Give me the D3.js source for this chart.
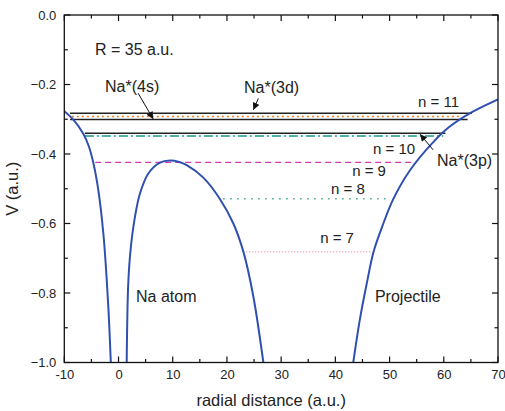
<!DOCTYPE html>
<html>
<head>
<meta charset="utf-8">
<script src="https://cdn.jsdelivr.net/npm/d3@7"></script>
<style>
  body { margin: 0; background: #fff; }
  text { font-family: "Liberation Sans", Arial, sans-serif; fill: #222; }
</style>
</head>
<body>
<div id="chart"></div>
<script>
// potential curve (three branches)
const outerX = [-10, -8.3, -6.5, -5.5, -4.65, -3.73, -2.8, -2.18, -1.75, -1.42]
const outerV = [-0.277, -0.302, -0.342, -0.377, -0.425, -0.503, -0.628, -0.76, -0.88, -1.0]
const middleX = [1.51, 1.8, 2.25, 3.04, 3.97, 5.5, 7.66, 9.51, 11.2, 12.58, 15.65, 18.73, 21.18, 23.03, 24.87, 26.72]
const middleV = [-1.0, -0.772, -0.672, -0.58, -0.513, -0.456, -0.425, -0.419, -0.423, -0.432, -0.468, -0.53, -0.6, -0.681, -0.81, -1.0]
const projX = [43.3, 44.5, 45.8, 47.05, 48.85, 50.7, 53.8, 58.1, 61.1, 64.8, 70]
const projV = [-1.0, -0.878, -0.772, -0.681, -0.6, -0.529, -0.446, -0.365, -0.321, -0.283, -0.243]

// energy levels: value, start, end
const levelNames = ['n11a', '4s', 'n11b', 'n10', '3p', 'n9', 'n8', 'n7']
const levelV = [-0.283, -0.292, -0.301, -0.34, -0.348, -0.424, -0.529, -0.681]
const levelX1 = [-8.95, -8.6, -8.95, -6.2, -6.2, -4.3, 19.3, 23.0]
const levelX2 = [65.2, 63.3, 64.4, 60.3, 59.9, 54.3, 50.3, 46.8]

const xTicks = [-10, 0, 10, 20, 30, 40, 50, 60, 70]
const yTicks = [0, -0.2, -0.4, -0.6, -0.8, -1.0]

// text labels (data coords, left/baseline)
const labelText = ['R = 35 a.u.', 'Na*(4s)', 'Na*(3d)', 'n = 11', 'n = 10', 'Na*(3p)', 'n = 9', 'n = 8', 'n = 7', 'Na atom', 'Projectile']
const labelX = [-4.34, -2.49, 23.15, 55.26, 46.95, 58.76, 43.1, 39.2, 37.2, 3.23, 47.3]
const labelV = [-0.115, -0.222, -0.224, -0.265, -0.4, -0.435, -0.463, -0.515, -0.656, -0.826, -0.826]

// arrows: [x0, v0, x1, v1]
const arrows = [
  [3.62, -0.225, 6.39, -0.299],
  [25.79, -0.24, 24.87, -0.273],
  [58.03, -0.388, 55.63, -0.343]
]

const margin = { top: 15, left: 64.3, right: 7, bottom: 48.5 }
const width = 505 - margin.left - margin.right
const height = 411 - margin.top - margin.bottom

const svg = d3
  .select('#chart')
  .append('svg')
  .attr('width', 505)
  .attr('height', 411)

svg.append('defs')
  .append('marker')
  .attr('id', 'head')
  .attr('viewBox', '0 0 10 10')
  .attr('refX', 10)
  .attr('refY', 5)
  .attr('markerWidth', 9)
  .attr('markerHeight', 7)
  .attr('markerUnits', 'userSpaceOnUse')
  .attr('orient', 'auto')
  .append('path')
  .attr('d', 'M0,0L10,5L0,10z')
  .attr('fill', '#111')

const g = svg.append('g')
  .attr('transform', 'translate(' + margin.left + ',' + margin.top + ')')

const x = d3.scaleLinear().domain([-10, 70]).range([0, width])
const y = d3.scaleLinear().domain([-1, 0]).range([height, 0])

// levels
const levelStyle = {
  n11a: { stroke: '#222', width: 1.5, dash: null },
  '4s': { stroke: '#f07f1f', width: 1.5, dash: '2,3' },
  n11b: { stroke: '#222', width: 1.5, dash: null },
  n10: { stroke: '#222', width: 1.5, dash: null },
  '3p': { stroke: '#1a968e', width: 1.5, dash: '9,3,2,3' },
  n9: { stroke: '#d23cb0', width: 1.3, dash: '6,4' },
  n8: { stroke: '#3aa880', width: 1.5, dash: '1.5,5.5' },
  n7: { stroke: '#f2a4c4', width: 1.5, dash: '1,2' }
}

g.selectAll('.level')
  .data(levelNames)
  .enter()
  .append('line')
  .attr('class', 'level')
  .attr('x1', (d, i) => x(levelX1[i]))
  .attr('x2', (d, i) => x(levelX2[i]))
  .attr('y1', (d, i) => y(levelV[i]))
  .attr('y2', (d, i) => y(levelV[i]))
  .attr('stroke', d => levelStyle[d].stroke)
  .attr('stroke-width', d => levelStyle[d].width)
  .attr('stroke-dasharray', d => levelStyle[d].dash)

// curve
const line = d3.line()
  .x(d => x(d[0]))
  .y(d => y(d[1]))
  .curve(d3.curveCatmullRom.alpha(0.5))

const branches = [
  outerX.map((v, i) => [v, outerV[i]]),
  middleX.map((v, i) => [v, middleV[i]]),
  projX.map((v, i) => [v, projV[i]])
]

g.append('clipPath').attr('id', 'clip')
  .append('rect').attr('width', width).attr('height', height)

g.selectAll('.branch')
  .data(branches)
  .enter()
  .append('path')
  .attr('class', 'branch')
  .attr('clip-path', 'url(#clip)')
  .attr('d', line)
  .attr('fill', 'none')
  .attr('stroke', '#3050b0')
  .attr('stroke-width', 2)

// arrows
g.selectAll('.arrow')
  .data(arrows)
  .enter()
  .append('line')
  .attr('x1', d => x(d[0]))
  .attr('y1', d => y(d[1]))
  .attr('x2', d => x(d[2]))
  .attr('y2', d => y(d[3]))
  .attr('stroke', '#111')
  .attr('stroke-width', 1)
  .attr('marker-end', 'url(#head)')

// labels
g.selectAll('.lbl')
  .data(labelText)
  .enter()
  .append('text')
  .attr('x', (d, i) => x(labelX[i]))
  .attr('y', (d, i) => y(labelV[i]))
  .style('font-size', d => d.startsWith('n =') ? '15px' : '16px')
  .text(d => d)

// axes, ticks inside on all four sides
const minorX = d3.range(-10, 71, 5)
const minorY = d3.range(0, 11).map(i => -i / 10)

function tickLen(major) { return major ? 6 : 3.5 }

const bottom = d3.axisBottom(x).tickValues(minorX)
  .tickSize(0).tickFormat(d => xTicks.includes(d) ? d : '')
const gx = g.append('g').attr('transform', 'translate(0,' + height + ')').call(bottom)
gx.selectAll('text').style('font-size', '13px').attr('dy', '1.05em')

const left = d3.axisLeft(y).tickValues(minorY).tickSize(0)
  .tickFormat(d => yTicks.some(t => Math.abs(t - d) < 1e-9) ? d3.format('.1f')(d) : '')
const gy = g.append('g').call(left)
gy.selectAll('text').style('font-size', '13px').attr('x', -8)

g.selectAll('.domain').remove()

const tickG = g.append('g').attr('stroke', '#111').attr('stroke-width', 1.2)
minorX.forEach(v => {
  const L = tickLen(v % 10 === 0)
  tickG.append('line').attr('x1', x(v)).attr('x2', x(v)).attr('y1', height).attr('y2', height - L)
  tickG.append('line').attr('x1', x(v)).attr('x2', x(v)).attr('y1', 0).attr('y2', L)
})
minorY.forEach((v, i) => {
  const L = tickLen(i % 2 === 0)
  tickG.append('line').attr('x1', 0).attr('x2', L).attr('y1', y(v)).attr('y2', y(v))
  tickG.append('line').attr('x1', width).attr('x2', width - L).attr('y1', y(v)).attr('y2', y(v))
})

g.append('rect')
  .attr('width', width)
  .attr('height', height)
  .attr('fill', 'none')
  .attr('stroke', '#111')
  .attr('stroke-width', 1.3)

// axis titles
g.append('text')
  .attr('x', width / 2 - 10)
  .attr('y', height + 43)
  .attr('text-anchor', 'middle')
  .style('font-size', '16.5px')
  .text('radial distance (a.u.)')

g.append('text')
  .attr('transform', 'translate(' + (-margin.left + 18) + ',' + y(-0.5) + ') rotate(-90)')
  .attr('text-anchor', 'middle')
  .style('font-size', '16.5px')
  .text('V (a.u.)')
</script>
</body>
</html>
